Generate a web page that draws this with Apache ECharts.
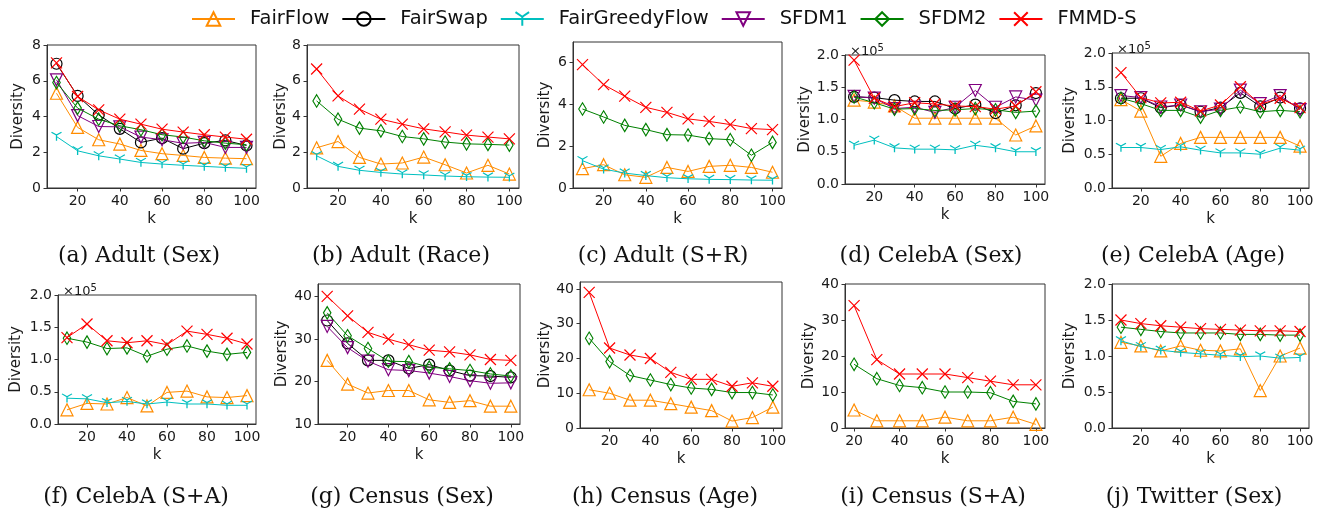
<!DOCTYPE html>
<html><head><meta charset="utf-8">
<script src="https://cdn.jsdelivr.net/npm/echarts@6/dist/echarts.min.js"></script>
<style>html,body{margin:0;padding:0;background:#fff}#c{width:1322px;height:510px}</style>
</head><body><div id="c"></div>
<script>
// ---------------- DATA ----------------
const seriesNames = ['FairFlow','FairSwap','FairGreedyFlow','SFDM1','SFDM2','FMMD-S'];
const kAll = [10,20,30,40,50,60,70,80,90,100];
const kFrom20 = [20,30,40,50,60,70,80,90,100];
const kTickLabels = [20,40,60,80,100];
const captions = ['(a) Adult (Sex)','(b) Adult (Race)','(c) Adult (S+R)','(d) CelebA (Sex)','(e) CelebA (Age)',
                  '(f) CelebA (S+A)','(g) Census (Sex)','(h) Census (Age)','(i) Census (S+A)','(j) Twitter (Sex)'];

// (a) Adult (Sex)
const a_FairFlow = [5.3,3.39,2.7,2.46,2.1,1.92,1.82,1.71,1.67,1.64];
const a_FairSwap = [6.95,5.15,4.09,3.31,2.55,2.79,2.2,2.51,2.66,2.38];
const a_FairGreedyFlow = [2.88,2.08,1.8,1.62,1.43,1.34,1.27,1.21,1.15,1.1];
const a_SFDM1 = [6.05,4.05,3.44,3.42,2.85,2.7,2.5,2.55,2.27,2.27];
const a_SFDM2 = [5.9,4.47,3.85,3.48,3.26,2.98,2.85,2.64,2.51,2.42];
const a_FMMDS = [7.0,5.12,4.37,3.85,3.57,3.29,3.13,2.98,2.85,2.73];
// (b) Adult (Race)
const b_FairFlow = [2.25,2.6,1.71,1.34,1.4,1.73,1.3,0.84,1.27,0.78];
const b_FairGreedyFlow = [1.8,1.21,0.99,0.87,0.78,0.73,0.67,0.63,0.61,0.6];
const b_SFDM2 = [4.87,3.85,3.35,3.2,2.88,2.75,2.57,2.47,2.44,2.4];
const b_FMMDS = [6.66,5.15,4.41,3.85,3.57,3.31,3.14,2.96,2.85,2.75];
// (c) Adult (S+R)
const c_FairFlow = [0.92,1.11,0.63,0.51,0.98,0.79,1.03,1.08,0.98,0.75];
const c_FairGreedyFlow = [1.3,0.9,0.71,0.59,0.49,0.44,0.41,0.4,0.38,0.37];
const c_SFDM2 = [3.76,3.38,2.98,2.78,2.54,2.52,2.35,2.3,1.56,2.17];
const c_FMMDS = [5.87,4.92,4.37,3.84,3.6,3.29,3.17,3.02,2.83,2.78];
// (d) CelebA (Sex)
const d_FairFlow = [130000,127000,121000,102000,102000,102000,102000,102000,76000,90000];
const d_FairSwap = [135000,134000,130000,128000,128000,117000,123000,110000,122000,141000];
const d_FairGreedyFlow = [60000,68000,56000,54000,54000,53000,60000,56000,50000,50000];
const d_SFDM1 = [136000,133000,117000,119000,111000,119000,145000,119000,135000,130000];
const d_SFDM2 = [135000,126000,116000,117000,114000,115000,117000,115000,111000,113000];
const d_FMMDS = [192000,133000,120000,126000,124000,121000,120000,116000,121000,143000];
// (e) CelebA (Age)
const e_FairFlow = [131000,114000,47000,66000,75000,75000,75000,75000,75000,62000];
const e_FairSwap = [133000,133000,119000,123000,113000,119000,141000,121000,134000,118000];
const e_FairGreedyFlow = [60000,60000,57000,61000,56000,52000,52000,50000,59000,56000];
const e_SFDM1 = [137000,134000,120000,123000,113000,117000,145000,125000,137000,116000];
const e_SFDM2 = [133000,125000,115000,115000,105000,115000,120000,113000,115000,113000];
const e_FMMDS = [171000,134000,126000,127000,114000,123000,150000,124000,133000,119000];
// (f) CelebA (S+A)
const f_FairFlow = [22000,32000,31000,41000,28000,49000,51000,42000,41000,44000];
const f_FairGreedyFlow = [40000,39000,33000,35000,31000,34000,31000,31000,29000,29000];
const f_SFDM2 = [133000,127000,117000,118000,105000,116000,121000,113000,108000,111000];
const f_FMMDS = [134000,155000,129000,126000,129000,123000,144000,139000,133000,124000];
// (g) Census (Sex)
const g_FairFlow = [25.0,19.4,17.3,17.9,17.9,15.7,15.1,15.5,14.2,14.2];
const g_FairSwap = [34.4,29.0,25.0,25.0,23.1,24.0,22.6,21.4,21.3,21.0];
const g_SFDM1 = [33.0,28.0,24.8,22.8,22.6,22.0,21.2,20.2,19.6,19.7];
const g_SFDM2 = [36.2,30.8,27.8,24.8,24.7,23.4,23.0,22.6,21.8,21.3];
const g_FMMDS = [40.1,35.5,31.6,30.0,28.7,27.4,27.0,26.3,25.2,25.0];
// (h) Census (Age)
const h_FairFlow = [11,10,8,8,7,6,5,2,3,6];
const h_SFDM2 = [25.8,19.1,15.1,13.8,12.5,11.5,11.1,10.2,10.2,9.5];
const h_FMMDS = [39,23,21,20,16,14,14,12,13,12];
// (i) Census (S+A)
const i_FairFlow = [5,2,2,2,3,2,2,3,1];
const i_SFDM2 = [17.7,13.7,11.8,11.2,10.0,10.0,9.8,7.4,6.7];
const i_FMMDS = [34,19,15,15,15,14,13,12,12];
// (j) Twitter (Sex)
const j_FairFlow = [1.19,1.14,1.07,1.14,1.08,1.07,1.1,0.52,1.0,1.11];
const j_FairGreedyFlow = [1.21,1.13,1.08,1.05,1.03,1.01,0.99,1.0,0.97,0.98];
const j_SFDM2 = [1.4,1.37,1.34,1.32,1.32,1.32,1.3,1.3,1.29,1.29];
const j_FMMDS = [1.5,1.45,1.42,1.4,1.38,1.37,1.36,1.35,1.35,1.34];

// y-axis ranges / tick values per panel
const yTicks = [[0,2,4,6,8],[0,2,4,6,8],[0,2,4,6],[0,50000,100000,150000,200000],[0,50000,100000,150000,200000],
                [0,50000,100000,150000,200000],[10,20,30,40],[0,10,20,30,40],[0,10,20,30,40],[0,0.5,1,1.5,2]];
const yMin = [0,0,0,0,0,0,10,0,0,0];
const yMax = [8,8,6.95,200000,200000,200000,43,42,40,2];

// ---------------- LAYOUT / STYLE ----------------
const panels = [
  {k:kAll, s:{FairFlow:a_FairFlow,FairSwap:a_FairSwap,FairGreedyFlow:a_FairGreedyFlow,SFDM1:a_SFDM1,SFDM2:a_SFDM2,'FMMD-S':a_FMMDS},
   g:{left:47,top:45,width:209,height:143}, ng:21, cx:134, fmt:'int', xr:[5.5,104.5]},
  {k:kAll, s:{FairFlow:b_FairFlow,FairGreedyFlow:b_FairGreedyFlow,SFDM2:b_SFDM2,'FMMD-S':b_FMMDS},
   g:{left:307,top:45,width:212,height:143}, ng:17, cx:396, fmt:'int', xr:[5.5,104.5]},
  {k:kAll, s:{FairFlow:c_FairFlow,FairGreedyFlow:c_FairGreedyFlow,SFDM2:c_SFDM2,'FMMD-S':c_FMMDS},
   g:{left:573,top:42,width:209,height:146}, ng:20, cx:658, fmt:'int', xr:[5.5,104.5]},
  {k:kAll, s:{FairFlow:d_FairFlow,FairSwap:d_FairSwap,FairGreedyFlow:d_FairGreedyFlow,SFDM1:d_SFDM1,SFDM2:d_SFDM2,'FMMD-S':d_FMMDS},
   g:{left:845,top:55,width:200,height:129}, ng:31, cx:926, fmt:'e5', xr:[5.5,104.5]},
  {k:kAll, s:{FairFlow:e_FairFlow,FairSwap:e_FairSwap,FairGreedyFlow:e_FairGreedyFlow,SFDM1:e_SFDM1,SFDM2:e_SFDM2,'FMMD-S':e_FMMDS},
   g:{left:1112,top:53,width:197,height:135}, ng:34, cx:1188, fmt:'e5', xr:[5.5,104.5]},
  {k:kAll, s:{FairFlow:f_FairFlow,FairGreedyFlow:f_FairGreedyFlow,SFDM2:f_SFDM2,'FMMD-S':f_FMMDS},
   g:{left:58,top:295,width:198,height:129}, ng:34, cx:131, fmt:'e5', xr:[5.5,104.5]},
  {k:kAll, s:{FairFlow:g_FairFlow,FairSwap:g_FairSwap,SFDM1:g_SFDM1,SFDM2:g_SFDM2,'FMMD-S':g_FMMDS},
   g:{left:318,top:284,width:202,height:140}, ng:28, cx:397, fmt:'int', xr:[5.5,104.5]},
  {k:kAll, s:{FairFlow:h_FairFlow,SFDM2:h_SFDM2,'FMMD-S':h_FMMDS},
   g:{left:580,top:282,width:202,height:146}, ng:27, cx:660, fmt:'int', xr:[5.5,104.5]},
  {k:kFrom20, s:{FairFlow:i_FairFlow,SFDM2:i_SFDM2,'FMMD-S':i_FMMDS},
   g:{left:845,top:284,width:200,height:144}, ng:28, cx:928, fmt:'int', xr:[16,104]},
  {k:kAll, s:{FairFlow:j_FairFlow,FairGreedyFlow:j_FairGreedyFlow,SFDM2:j_SFDM2,'FMMD-S':j_FMMDS},
   g:{left:1112,top:284,width:197,height:144}, ng:34, cx:1189, fmt:'f1', xr:[5.5,104.5]}
];

const sty = {
  'FairFlow':       {c:'#ff8c00', sym:'path://M5,0L10,10L0,10Z', size:[12,12]},
  'FairSwap':       {c:'#000000', sym:'circle', size:11},
  'FairGreedyFlow': {c:'#00bfbf', sym:'path://M8.66,10L8.66,20M8.66,10L0,5M8.66,10L17.32,5', size:[10,8.6]},
  'SFDM1':          {c:'#800080', sym:'path://M0,0L10,0L5,10Z', size:[12,12]},
  'SFDM2':          {c:'#008000', sym:'path://M3,0L6,5L3,10L0,5Z', size:[7.5,12.5]},
  'FMMD-S':         {c:'#ff0000', sym:'path://M0,0L10,10M10,0L0,10', size:[11,11]}
};

const FONT = 'DejaVu Sans';
const TXT = '#1a1a1a';
const AX = '#333333';

const grid = [], xAxis = [], yAxis = [], series = [], title = [];
panels.forEach((p, i) => {
  grid.push(Object.assign({show:true, borderColor:AX, borderWidth:1, backgroundColor:'transparent'}, p.g));
  xAxis.push({type:'value', gridIndex:i, min:p.xr[0], max:p.xr[1],
    name:'k', nameLocation:'middle', nameGap:24, nameTextStyle:{fontFamily:FONT, fontSize:15, color:TXT},
    axisLine:{show:true, lineStyle:{color:AX, width:1}},
    axisTick:{show:true, length:3.5, lineStyle:{color:AX}, customValues:kTickLabels},
    axisLabel:{fontFamily:FONT, fontSize:14, color:TXT, margin:6, customValues:kTickLabels},
    splitLine:{show:false}});
  const fmt = p.fmt==='e5' ? (v=>(v/1e5).toFixed(1)) : p.fmt==='f1' ? (v=>v.toFixed(1)) : (v=>String(Math.round(v)));
  yAxis.push({type:'value', gridIndex:i, min:yMin[i], max:yMax[i],
    name:'Diversity', nameLocation:'middle', nameGap:p.ng, nameRotate:90,
    nameTextStyle:{fontFamily:FONT, fontSize:15, color:TXT},
    axisLine:{show:true, lineStyle:{color:AX, width:1}},
    axisTick:{show:true, length:3.5, lineStyle:{color:AX}, customValues:yTicks[i]},
    axisLabel:{fontFamily:FONT, fontSize:14, color:TXT, margin:6, customValues:yTicks[i], formatter:fmt},
    splitLine:{show:false}});
  seriesNames.forEach((nm, si) => {
    const vals = p.s[nm];
    if (!vals) return;
    const st = sty[nm];
    series.push({type:'line', name:nm, xAxisIndex:i, yAxisIndex:i,
      data: p.k.map((k, j) => [k, vals[j]]),
      symbol: st.sym, symbolSize: st.size, showAllSymbol:true,
      lineStyle:{color:st.c, width:1},
      itemStyle:{color:'rgba(0,0,0,0)', borderColor:st.c, borderWidth:1.2},
      emphasis:{disabled:true}, animation:false, z:2+si});
  });
  const rowBottom = i < 5 ? 254 : 495;
  title.push({text:captions[i], left:p.cx, top:rowBottom-14, textAlign:'center',
    textStyle:{fontFamily:'DejaVu Serif', fontSize:22, fontWeight:'normal', color:'#111'}});
  if (p.fmt === 'e5') {
    title.push({text:'{b|×10}{s|5}', left:p.g.left, top:p.g.top-17,
      textStyle:{fontWeight:'normal', rich:{
        b:{fontFamily:FONT, fontSize:13, fontWeight:'normal', color:TXT},
        s:{fontFamily:FONT, fontSize:10, fontWeight:'normal', color:TXT, padding:[0,0,7,0]}}}});
  }
});

const chart = echarts.init(document.getElementById('c'), null, {renderer:'canvas'});
chart.setOption({
  animation:false,
  backgroundColor:'#ffffff',
  title,
  legend:{top:4, left:186, itemWidth:43, itemHeight:17, itemGap:12, data:seriesNames,
    textStyle:{fontFamily:FONT, fontSize:19.5, color:'#111', padding:[0,0,0,10]}},
  grid, xAxis, yAxis, series
});
</script></body></html>
